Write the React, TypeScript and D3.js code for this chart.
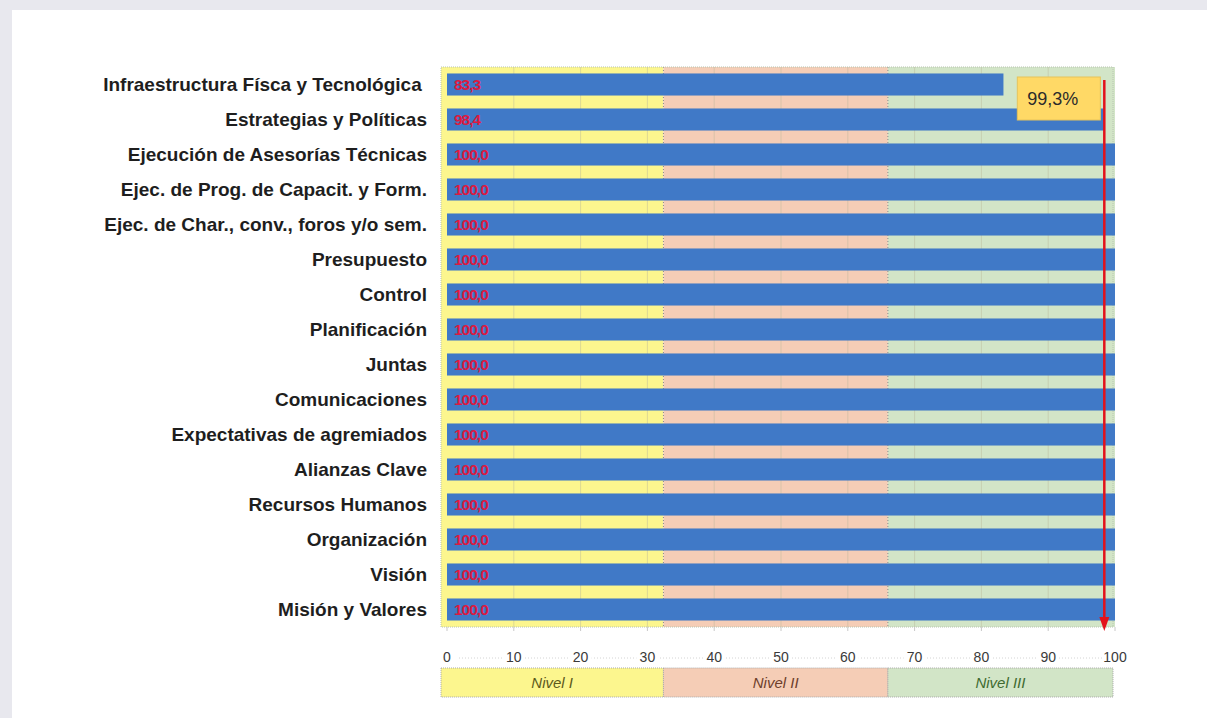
import * as d3 from "d3";

const W = 1207;
const H = 718;

const categories = [
  "Infraestructura Físca y Tecnológica ",
  "Estrategias y Políticas",
  "Ejecución de Asesorías Técnicas",
  "Ejec. de Prog. de Capacit. y Form.",
  "Ejec. de Char., conv., foros y/o sem.",
  "Presupuesto",
  "Control",
  "Planificación",
  "Juntas",
  "Comunicaciones",
  "Expectativas de agremiados",
  "Alianzas Clave",
  "Recursos Humanos",
  "Organización",
  "Visión",
  "Misión y Valores",
];
const values = [83.3, 98.4, 100, 100, 100, 100, 100, 100, 100, 100, 100, 100, 100, 100, 100, 100];
const xTicks = [0, 10, 20, 30, 40, 50, 60, 70, 80, 90, 100];

const levels = ["Nivel I", "Nivel II", "Nivel III"];
const levelBounds = [0, 32.4, 66, 100];
const levelFill = ["#fcf68e", "#f5cdb6", "#d2e5c7"];
const levelText = ["#5c5a1c", "#6e3f2c", "#3f6b30"];

const average = 99.3; // callout value
const arrowAt = 98.4; // where the red arrow sits on the axis

const PLOT = { left: 447, right: 1115, top: 67, bottom: 627 };
const FONT = "'Liberation Sans', Arial, sans-serif";

const comma = (v: number) => d3.format(".1f")(v).replace(".", ",");

export default function App() {
  const x = d3.scaleLinear().domain([0, 100]).range([PLOT.left, PLOT.right]);
  const y = d3
    .scaleBand<string>()
    .domain(categories)
    .range([PLOT.top, PLOT.bottom])
    .paddingInner(0.37)
    .paddingOuter(0.185);

  const arrowX = x(arrowAt);
  const boxW = 83;
  const boxH = 43;

  return (
    <svg
      width={W}
      height={H}
      style={{ position: "absolute", left: 0, top: 0, background: "#e8e8ee" }}
      fontFamily={FONT}
    >
      {/* white panel */}
      <rect x={12} y={10} width={W - 12} height={H - 10} fill="#ffffff" />

      {/* level bands behind bars */}
      {levels.map((lv, i) => (
        <rect
          key={lv}
          x={x(levelBounds[i]) - (i === 0 ? 6 : 0)}
          y={PLOT.top}
          width={x(levelBounds[i + 1]) - x(levelBounds[i]) + (i === 0 ? 6 : 0)}
          height={PLOT.bottom - PLOT.top}
          fill={levelFill[i]}
        />
      ))}

      {/* faint vertical grid */}
      {xTicks.slice(1, -1).map((t) => (
        <line key={t} x1={x(t)} x2={x(t)} y1={PLOT.top} y2={PLOT.bottom} stroke="#b9b59a" strokeOpacity={0.45} strokeWidth={1} />
      ))}
      {levelBounds.slice(1, -1).map((b) => (
        <line key={b} x1={x(b)} x2={x(b)} y1={PLOT.top} y2={PLOT.bottom} stroke="#8a8a8a" strokeDasharray="1,2" />
      ))}
      <rect
        x={PLOT.left - 6}
        y={PLOT.top}
        width={PLOT.right - PLOT.left + 4}
        height={PLOT.bottom - PLOT.top}
        fill="none"
        stroke="#b8c4b0"
        strokeDasharray="1,1"
      />

      {/* bars */}
      {categories.map((c, i) => (
        <rect key={c} x={x(0)} y={y(c)} width={x(values[i]) - x(0)} height={y.bandwidth()} fill="#4079c7" />
      ))}

      {/* value labels */}
      {categories.map((c, i) => (
        <text
          key={c}
          x={x(0) + 7}
          y={(y(c) ?? 0) + y.bandwidth() / 2}
          dy="0.37em"
          fontSize={15.5}
          fontWeight="bold"
          fill="#dc1a40"
          letterSpacing={-1}
        >
          {comma(values[i])}
        </text>
      ))}

      {/* category labels */}
      {categories.map((c) => (
        <text
          key={c}
          x={427}
          y={(y(c) ?? 0) + y.bandwidth() / 2}
          dy="0.36em"
          textAnchor="end"
          fontSize={19}
          fontWeight="bold"
          fill="#1e1e1e"
          style={{ whiteSpace: "pre" }}
        >
          {c}
        </text>
      ))}

      {/* x axis tick labels */}
      <line x1={PLOT.left - 6} x2={PLOT.right} y1={658} y2={658} stroke="#d4d4d4" strokeDasharray="1,2" />
      {xTicks.map((t) => (
        <g key={t}>
          <line x1={x(t)} x2={x(t)} y1={PLOT.bottom} y2={PLOT.bottom + 4} stroke="#c8c8c8" />
          <rect x={x(t) - 11} y={650} width={22} height={16} fill="#ffffff" />
          <text x={x(t)} y={657} dy="0.35em" textAnchor="middle" fontSize={14} fill="#3a3a3a">
            {t}
          </text>
        </g>
      ))}

      {/* level legend */}
      {levels.map((lv, i) => {
        const x0 = x(levelBounds[i]) - (i === 0 ? 6 : 0);
        const x1 = x(levelBounds[i + 1]) - (i === 2 ? 2 : 0);
        return (
          <g key={lv}>
            <rect x={x0} y={668} width={x1 - x0} height={29} fill={levelFill[i]} stroke="#a8a8a8" strokeDasharray="1,1" />
            <text
              x={(x0 + x1) / 2}
              y={683}
              dy="0.35em"
              textAnchor="middle"
              fontSize={15}
              fontStyle="italic"
              fill={levelText[i]}
            >
              {lv}
            </text>
          </g>
        );
      })}

      {/* average arrow + callout */}
      <line x1={arrowX} x2={arrowX} y1={PLOT.top + 13} y2={PLOT.bottom - 8} stroke="#e3121b" strokeWidth={2.5} />
      <path
        d={`M${arrowX - 5},${PLOT.bottom - 10} L${arrowX + 5},${PLOT.bottom - 10} L${arrowX},${PLOT.bottom + 4} Z`}
        fill="#e3121b"
      />
      <rect x={arrowX - 4 - boxW} y={PLOT.top + 10} width={boxW} height={boxH} fill="#ffd966" stroke="#e6c35a" />
      <text x={arrowX - 4 - boxW + 10} y={PLOT.top + 10 + boxH / 2} dy="0.35em" fontSize={18} fill="#2b2b2b">
        {comma(average)}%
      </text>
    </svg>
  );
}
